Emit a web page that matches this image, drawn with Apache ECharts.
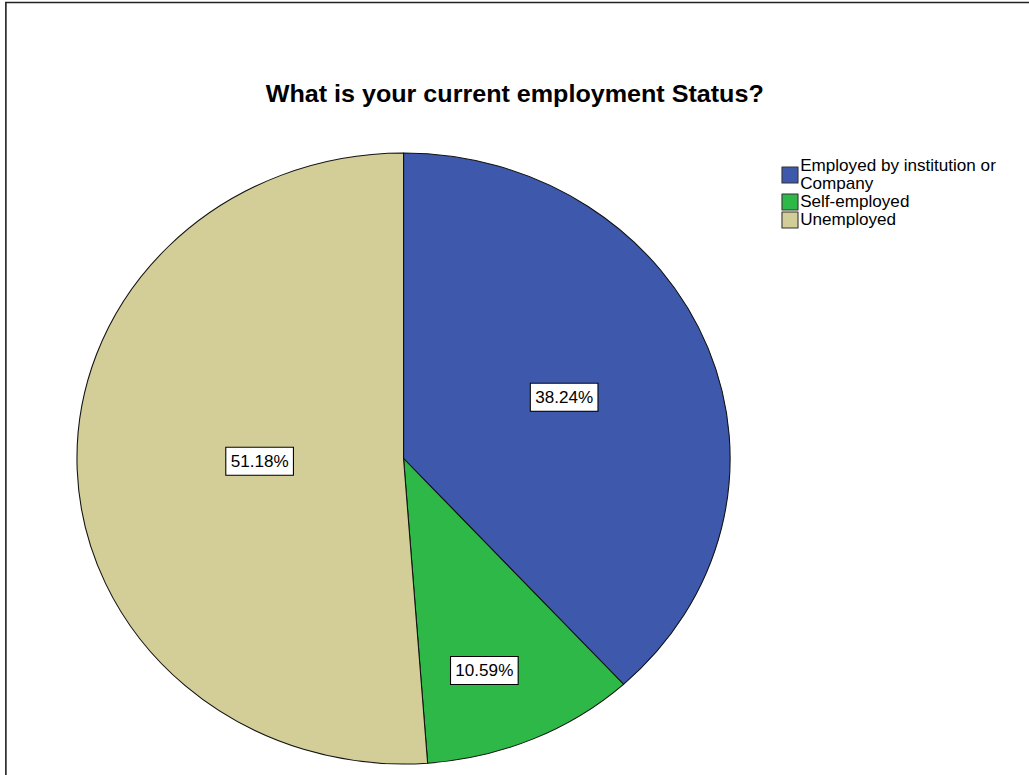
<!DOCTYPE html>
<html>
<head>
<meta charset="utf-8">
<title>What is your current employment Status?</title>
<script src="https://cdn.jsdelivr.net/npm/echarts@6/dist/echarts.min.js"></script>
<style>
  html, body { margin: 0; padding: 0; background: #fff; overflow: hidden; }
  /* The chart is drawn slightly wider than tall, as in the exported SPSS figure */
  #chart {
    width: 963px;
    height: 775px;
    transform: scaleX(1.069);
    transform-origin: 0 0;
  }
</style>
</head>
<body>
<div id="chart"></div>
<script>
// Employment status of respondents (percent of valid answers)
const categories = ['Employed by institution or Company', 'Self-employed', 'Unemployed'];
const percents = [38.24, 10.59, 51.18];
const legendText = ['Employed by institution or\nCompany', 'Self-employed', 'Unemployed'];

// SPSS default fill colours
const colors = ['#3E58AC', '#2EB848', '#D3CE97'];
// Nudges for the value boxes away from the slice mid-radius
const labelShift = [[5, -5], [14, 69], [21, -3]];

const FONT = '"Liberation Sans", Arial, Helvetica, sans-serif';

const chart = echarts.init(document.getElementById('chart'), null, { renderer: 'svg' });

chart.setOption({
  backgroundColor: '#ffffff',
  animation: false,
  color: colors,
  title: {
    text: 'What is your current employment Status?',
    left: 'center',
    top: 77,
    textStyle: { fontFamily: FONT, fontSize: 23.5, fontWeight: 'bold', color: '#000' }
  },
  legend: {
    orient: 'vertical',
    left: 731,
    top: 157,
    padding: 0,
    itemGap: 0,
    itemWidth: 15,
    itemHeight: 16,
    icon: 'rect',
    selectedMode: false,
    data: categories,
    formatter: name => legendText[categories.indexOf(name)],
    itemStyle: { borderColor: '#333', borderWidth: 1 },
    textStyle: {
      fontFamily: FONT, fontSize: 16, lineHeight: 18, color: '#000',
      padding: [0, 0, 0, -3]
    }
  },
  graphic: [{
    type: 'rect',
    shape: { x: 5.5, y: 2.5, width: 2000, height: 2000 },
    style: { fill: 'none', stroke: '#222', lineWidth: 1.5 },
    silent: true
  }],
  series: [{
    type: 'pie',
    center: [377.5, 458.5],
    radius: 305.5,
    startAngle: 90,
    clockwise: true,
    avoidLabelOverlap: false,
    emphasis: { disabled: true },
    itemStyle: { borderColor: '#111', borderWidth: 1 },
    label: {
      show: true,
      position: 'inside',
      formatter: p => p.value.toFixed(2) + '%',
      fontFamily: FONT,
      fontSize: 16,
      lineHeight: 16,
      color: '#000',
      backgroundColor: '#fff',
      borderColor: '#000',
      borderWidth: 1,
      padding: [6, 4, 5, 4]
    },
    labelLine: { show: false },
    labelLayout: p => ({ dx: labelShift[p.dataIndex][0], dy: labelShift[p.dataIndex][1] }),
    data: categories.map((name, i) => ({ name: name, value: percents[i] }))
  }]
});
</script>
</body>
</html>
